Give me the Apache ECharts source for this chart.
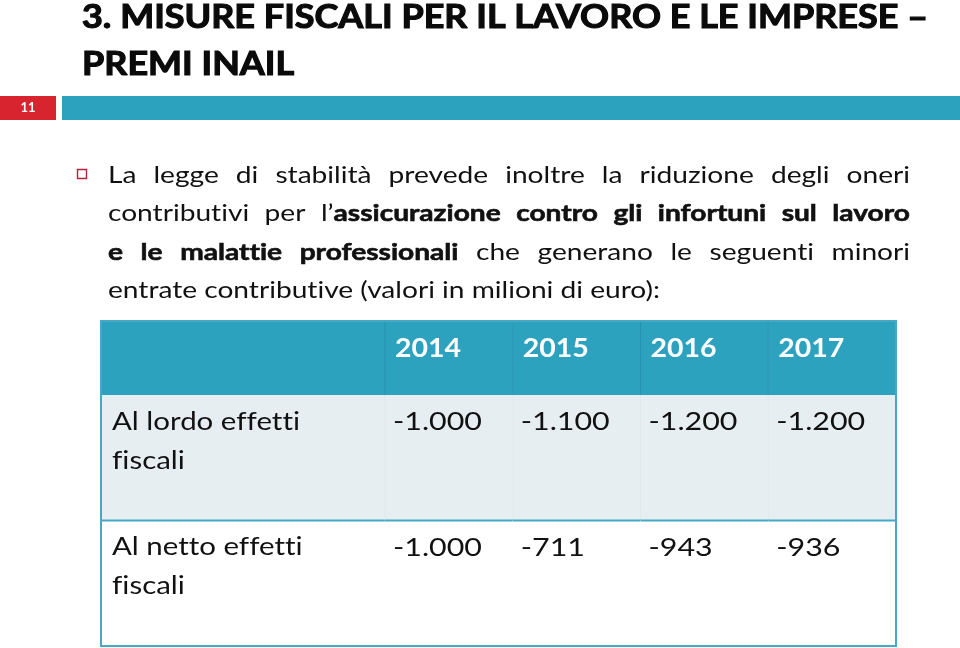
<!DOCTYPE html>
<html>
<head>
<meta charset="utf-8">
<script src="https://cdn.jsdelivr.net/npm/echarts@6/dist/echarts.min.js"></script>
<style>html,body{margin:0;padding:0;background:#fff;}#c{width:960px;height:648px;}</style>
</head>
<body>
<div id="c"></div>
<script>
// ---- data ----
const slideNumber = '11';
const titleLines = ['3. MISURE FISCALI PER IL LAVORO E LE IMPRESE –', 'PREMI INAIL'];
const paragraphLines = [
  [['La legge di stabilità prevede inoltre la riduzione degli oneri', false]],
  [['contributivi per l’', false], ['assicurazione contro gli infortuni sul lavoro', true]],
  [['e le malattie professionali', true], [' che generano le seguenti minori', false]],
  [['entrate contributive (valori in milioni di euro):', false]]
];
const years = ['2014', '2015', '2016', '2017'];
const rowLabels = ['Al lordo effetti\nfiscali', 'Al netto effetti\nfiscali'];
const lordo = [-1000, -1100, -1200, -1200];
const netto = [-1000, -711, -943, -936];

// ---- helpers ----
const FONT = 'Lato';
const cv = document.createElement('canvas').getContext('2d');
// break Lato's ft/ti/tt/fi ligatures with a zero-width non-joiner
function noLig(s) { return s.replace(/([ft])(?=[fti])/g, '$1\u200C'); }
function measure(text, size, weight) {
  cv.font = (weight || 'normal') + ' ' + size + 'px ' + FONT;
  return cv.measureText(noLig(text)).width;
}
function fmtIt(v) {
  const a = Math.abs(v).toString().replace(/\B(?=(\d{3})+(?!\d))/g, '.');
  return (v < 0 ? '-' : '') + a;
}
const TEAL = '#2ca2bf';
const TEAL_DARK = '#2593b0';
const BORDER = '#45a9c6';
const GREY = '#e7eef2';

// title
const titleSize = 32;
const titleW = 'bold';
const titleScale = 846 / measure(titleLines[0], titleSize, titleW);
const graphics = [];
titleLines.forEach((t, i) => {
  graphics.push({type: 'text', x: 82, y: [17.5, 65][i], scaleX: titleScale,
    style: {text: t, font: titleW + ' ' + titleSize + 'px ' + FONT, fill: '#0a0a0a',
      stroke: '#0a0a0a', lineWidth: 1.1, verticalAlign: 'middle'}});
});
// slide bar
graphics.push({type: 'rect', shape: {x: 0, y: 96, width: 56, height: 24}, style: {fill: '#d8242e'}});
graphics.push({type: 'rect', shape: {x: 62, y: 96, width: 898, height: 24}, style: {fill: TEAL}});
graphics.push({type: 'text', x: 28, y: 108, style: {text: slideNumber, font: 'bold 13px ' + FONT, fill: '#fff', align: 'center', verticalAlign: 'middle'}});
// bullet
graphics.push({type: 'rect', shape: {x: 77.5, y: 169.5, width: 9, height: 9}, style: {fill: 'none', stroke: '#b4233c', lineWidth: 1.4}});

// paragraph
const pSize = 23;
function wordsOf(runs) {
  const words = []; let cur = [];
  runs.forEach(([t, b]) => {
    t.split(' ').forEach((p, k) => {
      if (k > 0) { if (cur.length) words.push(cur); cur = []; }
      if (p) cur.push([p, b]);
    });
  });
  if (cur.length) words.push(cur);
  return words;
}
const wOf = b => (b ? 'bold' : 'normal');
const pScale = 552 / measure('entrate contributive (valori in milioni di euro):', pSize, 'normal');
const centers = [175.5, 214, 252.5, 291];
const X0 = 108, X1 = 910;
paragraphLines.forEach((runs, li) => {
  const words = wordsOf(runs);
  const widths = words.map(w => w.reduce((s, r) => s + measure(r[0], pSize, wOf(r[1])) * pScale, 0));
  const total = widths.reduce((a, b) => a + b, 0);
  const last = li === paragraphLines.length - 1;
  const gap = last ? measure(' ', pSize, 'normal') * pScale : (X1 - X0 - total) / (words.length - 1);
  let x = X0;
  words.forEach((w, wi) => {
    let xr = x;
    w.forEach(([t, b]) => {
      const st = {text: noLig(t), font: wOf(b) + ' ' + pSize + 'px ' + FONT, fill: '#111', verticalAlign: 'middle'};
      if (b) { st.stroke = '#111'; st.lineWidth = 0.6; }
      graphics.push({type: 'text', x: xr, y: centers[li], scaleX: pScale, style: st});
      xr += measure(t, pSize, wOf(b)) * pScale;
    });
    x += widths[wi] + gap;
  });
});
// table outer border
graphics.push({type: 'rect', z: 100, shape: {x: 101, y: 321, width: 795, height: 325}, style: {fill: 'none', stroke: BORDER, lineWidth: 2}});

// table text scales
const labSize = 25, valSize = 25, yearSize = 26;
const labScale = 188 / measure('Al lordo effetti', labSize, 'normal');
const valScale = 89 / measure('-1.000', valSize, 'normal');
const yearScale = 66 / measure('2014', yearSize, 'bold');

function cellBox(api) {
  const c = api.coord([api.value(0), api.value(1)]);
  const s = api.size([1, 1]);
  return {x: c[0] - s[0] / 2, y: c[1] - s[1] / 2, w: s[0], h: s[1]};
}

const headerRight = years.map((y, i) => [i, 0]);
const bodyLeft = rowLabels.map((l, j) => [0, j]);
const bodyRight = [];
[lordo, netto].forEach((arr, j) => arr.forEach((v, i) => bodyRight.push([i, j, v])));

const option = {
  animation: false,
  grid: [
    {left: 101, top: 321, width: 284, height: 74},
    {left: 385, top: 321, width: 511, height: 74},
    {left: 101, top: 395, width: 284, height: 251},
    {left: 385, top: 395, width: 511, height: 251}
  ],
  xAxis: [
    {type: 'category', gridIndex: 0, data: [''], show: false},
    {type: 'category', gridIndex: 1, data: years, show: false},
    {type: 'category', gridIndex: 2, data: [''], show: false},
    {type: 'category', gridIndex: 3, data: years, show: false}
  ],
  yAxis: [
    {type: 'category', gridIndex: 0, data: ['h'], show: false},
    {type: 'category', gridIndex: 1, data: ['h'], show: false},
    {type: 'category', gridIndex: 2, data: rowLabels, inverse: true, show: false},
    {type: 'category', gridIndex: 3, data: rowLabels, inverse: true, show: false}
  ],
  series: [
    {type: 'custom', xAxisIndex: 0, yAxisIndex: 0, data: [[0, 0]],
      renderItem: (p, api) => {
        const b = cellBox(api);
        return {type: 'rect', shape: {x: b.x, y: b.y, width: b.w, height: b.h}, style: {fill: TEAL}};
      }},
    {type: 'custom', xAxisIndex: 1, yAxisIndex: 1, data: headerRight,
      renderItem: (p, api) => {
        const b = cellBox(api);
        return {type: 'group', children: [
          {type: 'rect', shape: {x: b.x, y: b.y, width: b.w, height: b.h}, style: {fill: TEAL}},
          {type: 'line', shape: {x1: b.x, y1: b.y, x2: b.x, y2: b.y + b.h}, style: {stroke: TEAL_DARK, lineWidth: 1}},
          {type: 'text', x: b.x + 10, y: b.y + 28, scaleX: yearScale,
            style: {text: years[p.dataIndex], font: 'bold ' + yearSize + 'px ' + FONT, fill: '#fff', verticalAlign: 'middle'}}
        ]};
      }},
    {type: 'custom', xAxisIndex: 2, yAxisIndex: 2, data: bodyLeft,
      renderItem: (p, api) => {
        const b = cellBox(api);
        const j = p.dataIndex;
        const ch = [
          {type: 'rect', shape: {x: b.x, y: b.y, width: b.w, height: b.h}, style: {fill: j === 0 ? GREY : '#fff'}},
          {type: 'text', x: b.x + 11, y: b.y + 7, scaleX: labScale,
            style: {text: noLig(rowLabels[j]), font: labSize + 'px ' + FONT, lineHeight: 39, fill: '#111', verticalAlign: 'top'}}
        ];
        if (j > 0) ch.push({type: 'line', shape: {x1: b.x, y1: b.y, x2: b.x + b.w, y2: b.y}, style: {stroke: BORDER, lineWidth: 2}});
        return {type: 'group', children: ch};
      }},
    {type: 'custom', xAxisIndex: 3, yAxisIndex: 3, data: bodyRight,
      renderItem: (p, api) => {
        const b = cellBox(api);
        const j = api.value(1);
        const ch = [
          {type: 'rect', shape: {x: b.x, y: b.y, width: b.w, height: b.h}, style: {fill: j === 0 ? GREY : '#fff'}},
          {type: 'text', x: b.x + 8, y: b.y + 27, scaleX: valScale,
            style: {text: fmtIt(api.value(2)), font: valSize + 'px ' + FONT, fill: '#111', verticalAlign: 'middle'}}
        ];
        if (j === 0) ch.push({type: 'line', shape: {x1: b.x, y1: b.y, x2: b.x, y2: b.y + b.h}, style: {stroke: '#e0e8ec', lineWidth: 1}});
        if (j > 0) ch.push({type: 'line', shape: {x1: b.x, y1: b.y, x2: b.x + b.w, y2: b.y}, style: {stroke: BORDER, lineWidth: 2}});
        return {type: 'group', children: ch};
      }}
  ],
  graphic: graphics
};
const chart = echarts.init(document.getElementById('c'), null, {renderer: 'canvas'});
chart.setOption(option);
</script>
</body>
</html>
